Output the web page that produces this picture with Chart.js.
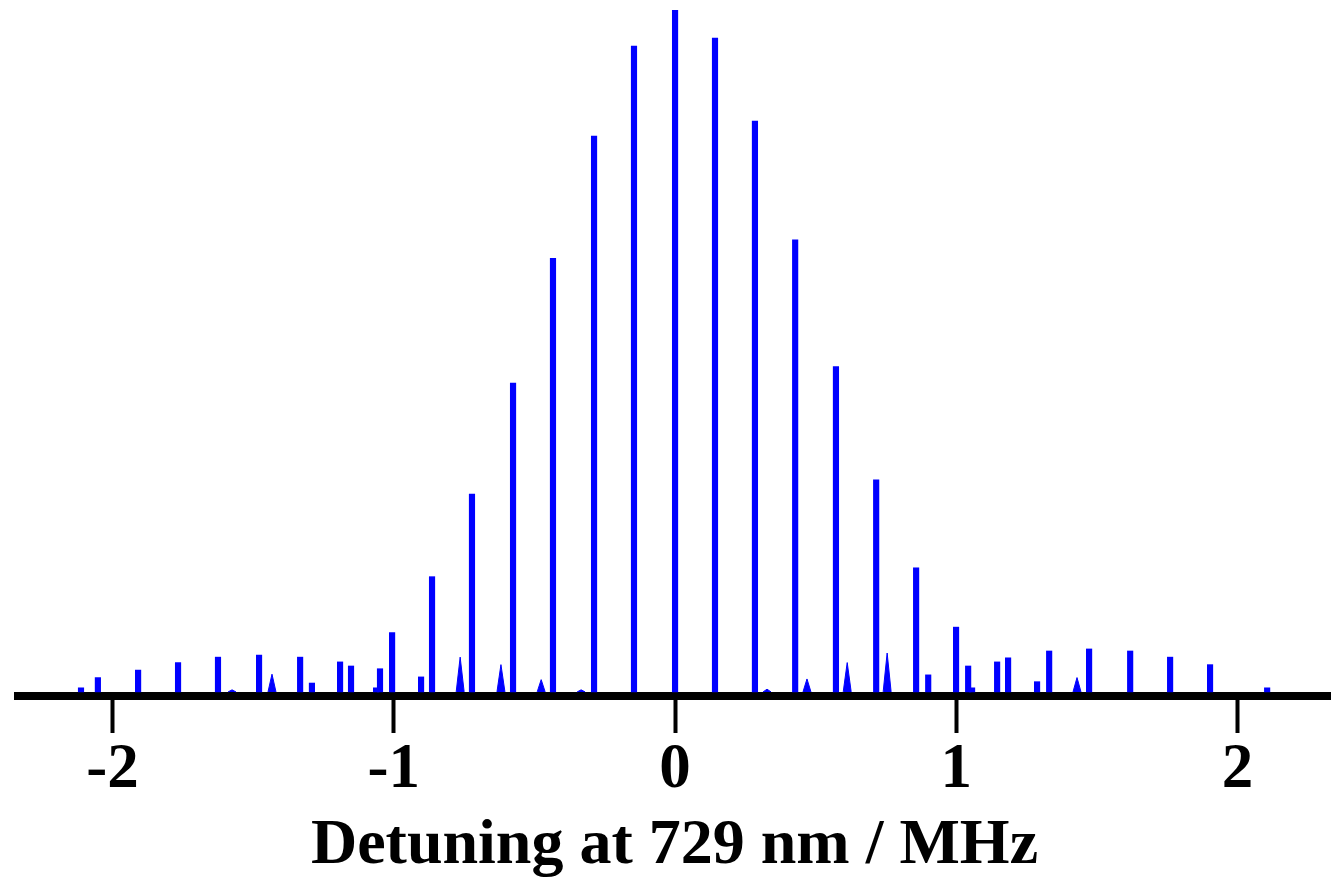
<!DOCTYPE html>
<html>
<head>
<meta charset="utf-8">
<script src="https://cdn.jsdelivr.net/npm/chart.js@4/dist/chart.umd.min.js"></script>
<style>
  html, body { margin: 0; padding: 0; background: #fff; }
  #wrap { width: 1331px; height: 878px; }
</style>
</head>
<body>
<div id="wrap"><canvas id="myChart"></canvas></div>
<script>
// carrier + sideband lines (rectangular peaks), MHz / relative intensity
const barPos = [-2.112, -2.052, -1.909, -1.767, -1.625, -1.479, -1.333, -1.291, -1.191, -1.152,
  -1.063, -1.049, -1.006, -0.903, -0.864, -0.722, -0.576, -0.434, -0.288, -0.146,
  0, 0.142, 0.284, 0.427, 0.572, 0.715, 0.857, 0.900, 0.999, 1.042,
  1.056, 1.145, 1.184, 1.287, 1.330, 1.472, 1.618, 1.760, 1.902, 2.105];
const barHeight = [0.6, 2.1, 3.2, 4.3, 5.1, 5.4, 5.1, 1.3, 4.4, 3.8,
  0.6, 3.4, 8.7, 2.2, 16.9, 29.0, 45.3, 63.6, 81.5, 94.7,
  100, 95.9, 83.7, 66.3, 47.7, 31.1, 18.2, 2.5, 9.5, 3.8,
  0.6, 4.4, 5.0, 1.5, 6.0, 6.3, 6.0, 5.1, 4.0, 0.6];

// narrow triangular peaks
const spikePos = [-1.575, -1.433, -0.764, -0.619, -0.476, -0.334, 0.327, 0.469, 0.612, 0.754, 1.429];
const spikeHeight = [0.3, 2.6, 5.1, 4.0, 1.8, 0.3, 0.4, 1.9, 4.3, 5.7, 2.1];

const tickLabels = [-2, -1, 0, 1, 2];

const halfBase = 0.0142;
const spikePoints = [];
spikePos.forEach((p, i) => {
  spikePoints.push({ x: p - halfBase, y: 0 });
  spikePoints.push({ x: p, y: spikeHeight[i] });
  spikePoints.push({ x: p + halfBase, y: 0 });
  spikePoints.push({ x: NaN, y: NaN });
});

const myChart = new Chart("myChart", {
  type: "bar",
  data: {
    datasets: [
      {
        type: "bar",
        data: barPos.map((p, i) => ({ x: p, y: barHeight[i] })),
        backgroundColor: "#0000ff",
        barThickness: 5.5,
        borderWidth: 0,
      },
      {
        type: "line",
        data: spikePoints,
        borderColor: "#0000ff",
        backgroundColor: "#0000ff",
        borderWidth: 1,
        pointRadius: 0,
        fill: "origin",
        spanGaps: false,
      },
    ],
  },
  options: {
    responsive: true,
    maintainAspectRatio: false,
    animation: false,
    layout: { padding: { left: 18, right: 0, top: 10, bottom: 0 } },
    plugins: { legend: { display: false }, tooltip: { enabled: false } },
    scales: {
      x: {
        type: "linear",
        min: -2.336,
        max: 2.332,
        offset: false,
        z: 1,
        afterBuildTicks: (axis) => {
          axis.ticks = tickLabels.map((v) => ({ value: v }));
        },
        border: { display: true, width: 8, color: "#000" },
        grid: {
          display: true,
          offset: false,
          drawOnChartArea: false,
          drawTicks: true,
          tickLength: 37,
          tickWidth: 4,
          tickColor: "#000",
        },
        ticks: {
          autoSkip: false,
          maxRotation: 0,
          padding: 6,
          color: "#000",
          font: { family: "Liberation Serif", size: 63, weight: "bold", lineHeight: 1 },
        },
        title: {
          display: true,
          text: "Detuning at 729 nm / MHz",
          color: "#000",
          padding: { top: 6, bottom: 0 },
          font: { family: "Liberation Serif", size: 64, weight: "bold", lineHeight: 1 },
        },
      },
      y: {
        display: false,
        min: -0.6,
        max: 100,
      },
    },
  },
});
</script>
</body>
</html>
